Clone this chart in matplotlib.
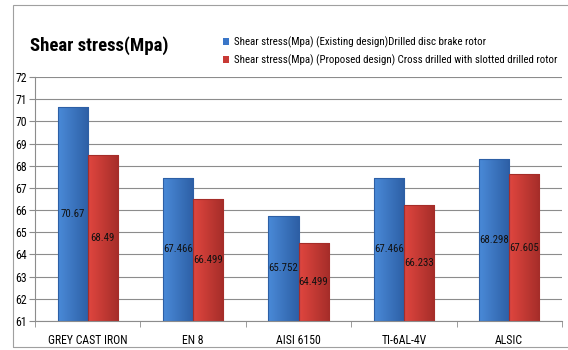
import numpy as np
import matplotlib.pyplot as plt
from matplotlib.patches import Rectangle
from matplotlib.colors import LinearSegmentedColormap

plt.rcParams['font.family'] = ['Roboto Condensed', 'DejaVu Sans']

materials = ["GREY CAST IRON", "EN 8", "AISI 6150", "TI-6AL-4V", "ALSIC"]
existing = [70.67, 67.466, 65.752, 67.466, 68.298]
proposed = [68.49, 66.499, 64.499, 66.233, 67.605]
existing_lbl = ["70.67", "67.466", "65.752", "67.466", "68.298"]
proposed_lbl = ["68.49", "66.499", "64.499", "66.233", "67.605"]
series_names = ["Shear stress(Mpa) (Existing design)Drilled disc brake rotor",
                "Shear stress(Mpa) (Proposed design) Cross drilled with slotted drilled rotor"]

fig = plt.figure(figsize=(5.68, 3.5), dpi=100)
# outer chart frame (right side runs off the picture)
fig.patches.append(Rectangle((13/568, 0.01), 1.0, 0.975, transform=fig.transFigure,
                             fill=False, edgecolor='#a0a0a0', lw=0.8))

ax = fig.add_axes([35/568, 1 - 321/350, (562 - 35)/568, (321 - 77)/350])
ymin = 61
x = np.arange(len(materials))
w = 0.285


def grad_bar(ax, x0, top, light, dark):
    # horizontal gradient to mimic the excel bevel
    cmap = LinearSegmentedColormap.from_list('g', [light, dark])
    g = np.linspace(0, 1, 64).reshape(1, -1)
    im = ax.imshow(g, cmap=cmap, aspect='auto', extent=(x0, x0 + w, ymin, top), zorder=2)
    r = Rectangle((x0, ymin), w, top - ymin, fill=False, edgecolor=dark, lw=0.8, zorder=3)
    ax.add_patch(r)
    im.set_clip_path(r)


for i in range(len(materials)):
    grad_bar(ax, x[i] - w, existing[i], '#4a8ad8', '#2d5fa5')
    grad_bar(ax, x[i], proposed[i], '#e0463f', '#a52d29')
    ax.text(x[i] - w/2, (existing[i] + ymin)/2, existing_lbl[i], ha='center', va='center',
            fontsize=7.8, color='#111111', zorder=4)
    ax.text(x[i] + w/2, (proposed[i] + ymin)/2, proposed_lbl[i], ha='center', va='center',
            fontsize=7.8, color='#111111', zorder=4)

ax.set_xlim(-0.5, len(materials) - 0.5)
ax.set_ylim(61, 72)
ax.set_yticks(range(61, 73))
ax.set_yticklabels([str(v) for v in range(61, 73)], fontsize=8.5)
ax.yaxis.grid(True, color='#8c8c8c', lw=0.8, zorder=0)
ax.set_axisbelow(True)
ax.set_xticks(x)
ax.set_xticklabels(materials, fontsize=8.5)
ax.tick_params(axis='x', length=0, pad=9)
ax.set_xticks(np.arange(-0.5, len(materials)), minor=True)
ax.tick_params(axis='x', which='minor', length=4, color='#8c8c8c')
ax.tick_params(axis='y', length=4, color='#8c8c8c', pad=2)
for s in ['top', 'right']:
    ax.spines[s].set_visible(False)
ax.spines['left'].set_color('#8c8c8c')
ax.spines['bottom'].set_color('#8c8c8c')

fig.text(30/568, 1 - 46/350, "Shear stress(Mpa)", fontsize=13.5, fontweight='bold', va='center')

hb = [Rectangle((0, 0), 1, 1, facecolor='#3a76c8'), Rectangle((0, 0), 1, 1, facecolor='#c83a35')]
fig.legend(hb, series_names, loc='center left', bbox_to_anchor=(213/568, 1 - 51/350),
           frameon=False, fontsize=7.8, handlelength=0.6, handleheight=0.6,
           handletextpad=0.4, labelspacing=0.6)

fig.savefig('out.png', dpi=100)
